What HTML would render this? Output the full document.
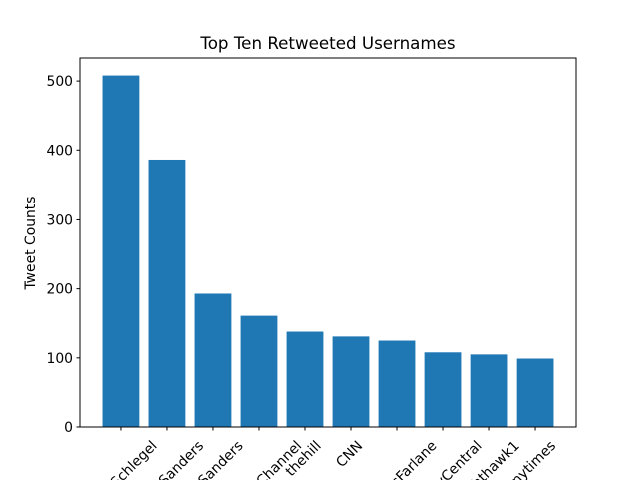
<!DOCTYPE html>
<html><head><meta charset="utf-8"><style>
html,body{margin:0;padding:0;background:#fff;overflow:hidden;width:640px;height:480px}
svg{display:block;font-family:"DejaVu Sans","Liberation Sans",sans-serif;overflow:hidden}
</style></head><body>
<svg id="chart" width="640" height="480">
<rect width="640" height="480" fill="#fff"/>
<text x="328" y="49" text-anchor="middle" font-size="16.7" fill="#000">Top Ten Retweeted Usernames</text>
<text transform="translate(35,243) rotate(-90)" text-anchor="middle" font-size="13.9" fill="#000">Tweet Counts</text>
<g id="bars"></g>
<g id="yaxis"></g>
<g id="xaxis"></g>
<rect x="80" y="58" width="496" height="369" fill="none" stroke="#000" stroke-width="1"/>
</svg>
<script>
const categories = ["GlennSchlegel","BernieSanders","SenSanders","FoxNewsChannel","thehill","CNN","SethMacFarlane","ComedyCentral","Nighthawk1","nytimes"];
const counts = [508, 386, 193, 161, 138, 131, 125, 108, 105, 99];
const yTicks = [0, 100, 200, 300, 400, 500];
const NS = "http://www.w3.org/2000/svg";
const L = 80, R = 576, T = 58, B = 427;
const xMin = -0.89, xMax = categories.length - 1 + 0.89;
const yMax = 533.4;
const xs = i => L + (i - xMin) / (xMax - xMin) * (R - L);
const ys = v => B - v / yMax * (B - T);
function mk(tag, attrs, parent){const e=document.createElementNS(NS,tag);for(const k in attrs)e.setAttribute(k,attrs[k]);parent.appendChild(e);return e;}
const bw = xs(0.8) - xs(0);
const gb = document.getElementById('bars'), gy = document.getElementById('yaxis'), gx = document.getElementById('xaxis');
counts.forEach((v,i)=>{
  const r = mk('rect',{x:xs(i)-bw/2,y:ys(v),width:bw,height:B-ys(v),fill:'#1f77b4'},gb);
  
  
});
yTicks.forEach(t=>{
  const y = ys(t);
  const l = mk('line',{x1:L-3.5,x2:L,y1:y,y2:y,stroke:'#000','stroke-width':1},gy);
  
  
  const tx = mk('text',{x:L-7,y:y+5,'text-anchor':'end','font-size':13.9,fill:'#000'},gy);
  tx.textContent = t;
  
  
});
categories.forEach((c,i)=>{
  const x = xs(i);
  const l = mk('line',{x1:x,x2:x,y1:B,y2:B+3.5,stroke:'#000','stroke-width':1},gx);
  
  
  const tx = mk('text',{'text-anchor':'middle','font-size':13.9,fill:'#000'},gx);
  tx.textContent = c;
  
  
  const w = tx.getComputedTextLength();
  const h = (w + 14) * 0.7071;
  const cy = B + 11 + h/2;
  tx.setAttribute('transform', `translate(${x-2},${cy}) rotate(-45) translate(0,5)`);
});
</script>
</body></html>
